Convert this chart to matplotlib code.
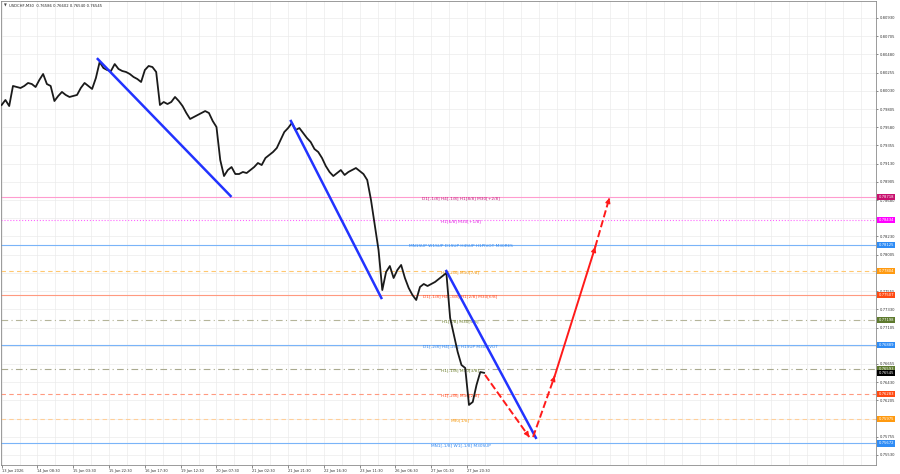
import matplotlib.pyplot as plt
from matplotlib.transforms import blended_transform_factory

# USDCHF M30 closes, one value every 4 bars (2 hours)
BAR_STEP = 4
closes = [
    0.79855, 0.79917, 0.79842, 0.80090, 0.80077, 0.80065, 0.80090, 0.80127,
    0.80114, 0.80077, 0.80164, 0.80238, 0.80114, 0.80090, 0.79904, 0.79966,
    0.80016, 0.79979, 0.79954, 0.79966, 0.79979, 0.80065, 0.80127, 0.80090,
    0.80053, 0.80188, 0.80386, 0.80312, 0.80287, 0.80275, 0.80361, 0.80300,
    0.80275, 0.80263, 0.80238, 0.80201, 0.80176, 0.80139, 0.80287, 0.80337,
    0.80324, 0.80263, 0.79855, 0.79892, 0.79867, 0.79892, 0.79954, 0.79904,
    0.79842, 0.79756, 0.79682, 0.79706, 0.79731, 0.79756, 0.79780, 0.79756,
    0.79657, 0.79583, 0.79175, 0.78977, 0.79051, 0.79088, 0.79002, 0.79002,
    0.79027, 0.79014, 0.79051, 0.79088, 0.79138, 0.79113, 0.79200, 0.79237,
    0.79274, 0.79323, 0.79422, 0.79521, 0.79570, 0.79632, 0.79546, 0.79570,
    0.79509, 0.79447, 0.79397, 0.79311, 0.79274, 0.79200, 0.79101, 0.79027,
    0.78977, 0.79014, 0.79051, 0.78990, 0.79027, 0.79051, 0.79076, 0.79039,
    0.79002, 0.78928, 0.78681, 0.78372, 0.78063, 0.77568, 0.77791, 0.77865,
    0.77717, 0.77816, 0.77878, 0.77717, 0.77594, 0.77507, 0.77445, 0.77606,
    0.77643, 0.77618, 0.77643, 0.77668, 0.77705, 0.77742, 0.77779, 0.77223,
    0.77013, 0.76803, 0.76642, 0.76605, 0.76148, 0.76185, 0.76395, 0.76555,
    0.76545,
]

# blue trend lines: (bar start, bar end), (price start, price end)
trend_bars = [(102, 243), (307, 403), (472, 567)]
trend_prices = [(0.80423, 0.78730), (0.79657, 0.77470), (0.77803, 0.75742)]

# red forecast path
forecast_bars = [(513, 560), (564, 587), (587, 630), (630, 645)]
forecast_prices = [(0.76520, 0.75752), (0.75752, 0.76506),
                   (0.76506, 0.78100), (0.78100, 0.78706)]
forecast_styles = ["--", "--", "-", "--"]

# Murrey math levels
level_prices = [0.78718, 0.78434, 0.78125, 0.77804, 0.77507, 0.77198,
                0.76889, 0.76593, 0.76283, 0.75975, 0.75672]
level_texts = [
    "D1[-1/8] H4[-1/8] H1[8/8] M30[+2/8]",
    "H1[6/8] M30[+1/8]",
    "MN1SUP W1SUP D1SUP H4SUP H1PIVOT M30RES",
    "H4[-2/8] M30[7/8]",
    "D1[-1/8] H4[-3/8] H1[2/8] M30[6/8]",
    "H1[1/8] M30[5/8]",
    "D1[-2/8] H4[-2/8] H1SUP M30PIVOT",
    "H1[-1/8] M30[3/8]",
    "H1[-2/8] M30[2/8]",
    "M30[1/8]",
    "MN1[-1/8] W1[-1/8] M30SUP",
]
level_line_colors = ["#ff9ccf", "#ff66ff", "#7ab4f8", "#ffc870", "#ff9a80",
                     "#b5b59a", "#7ab4f8", "#a9a98e", "#ff9a80", "#ffcf9a",
                     "#7ab4f8"]
level_styles = ["-", ":", "-", (0, (4, 3)), "-", (0, (6, 3, 1, 3)), "-",
                (0, (6, 3, 1, 3)), (0, (4, 3)), (0, (4, 3)), "-"]
level_text_colors = ["#c2187a", "#e020e0", "#2f86f0", "#f59a10", "#ff4a20",
                     "#6b7d2a", "#2f86f0", "#6b7d2a", "#ff4a20", "#f59a10",
                     "#2f86f0"]
level_tag_colors = ["#c8106e", "#ff00ff", "#2f8cf5", "#ff9a10", "#ff4a12",
                    "#5e7a2e", "#2f8cf5", "#5e7a2e", "#ff4a12", "#ff9a10",
                    "#2f8cf5"]

bid_price = 0.76545
title = "USDCHF,M30  0.76586 0.76602 0.76540 0.76545"

price_ticks = [round(0.80930 - k * 0.00225, 5) for k in range(25)]
time_labels = ["13 Jan 2026", "14 Jan 08:30", "15 Jan 03:30", "15 Jan 22:30",
               "16 Jan 17:30", "19 Jan 12:30", "20 Jan 07:30", "21 Jan 02:30",
               "21 Jan 21:30", "22 Jan 16:30", "23 Jan 11:30", "26 Jan 06:30",
               "27 Jan 01:30", "27 Jan 20:30"]
LABEL_EVERY = 38


fig = plt.figure(figsize=(9, 4.74), dpi=100)
ax = fig.add_axes([1 / 900, 9 / 474, 875 / 900, 464 / 474])
ax.set_xlim(-0.7, 928)
ax.set_ylim(0.75406, 0.81140)

# grid
for b in range(0, 930, LABEL_EVERY // 2):
    ax.axvline(b, color="#ebebeb", lw=0.5, zorder=0)
for p in price_ticks:
    ax.axhline(p, color="#ebebeb", lw=0.5, zorder=0)

# levels
for p, ls, lc in zip(level_prices, level_styles, level_line_colors):
    ax.axhline(p, color=lc, lw=0.8, ls=ls, zorder=1)
for p, txt, tc in zip(level_prices, level_texts, level_text_colors):
    ax.text(487, p - 0.00018, txt, color=tc, fontsize=3.1, ha="center",
            va="center", zorder=2)

# price
bars = [i * BAR_STEP for i in range(len(closes))]
ax.plot(bars, closes, color="#1a1a1a", lw=1.3, zorder=3)

# trend lines
for xs, ys in zip(trend_bars, trend_prices):
    ax.plot(xs, ys, color="#2233ff", lw=1.8, zorder=4)

# forecast arrows
for xs, ys, ls in zip(forecast_bars, forecast_prices, forecast_styles):
    ax.plot(xs, ys, color="#ff1a1a", lw=1.4, ls=ls, zorder=5)
    tail = (xs[1] - 0.02 * (xs[1] - xs[0]), ys[1] - 0.02 * (ys[1] - ys[0]))
    ax.annotate("", xy=(xs[1], ys[1]), xytext=tail,
                arrowprops=dict(arrowstyle="-|>", color="#ff1a1a", lw=1.0,
                                mutation_scale=7, shrinkA=0, shrinkB=0),
                zorder=5)

# axes styling
for s in ax.spines.values():
    s.set_color("#8a8a8a")
    s.set_linewidth(0.6)
ax.yaxis.tick_right()
ax.set_yticks(price_ticks)
ax.set_yticklabels([f"{p:.5f}" for p in price_ticks])
ax.tick_params(axis="y", labelsize=2.7, length=1.5, width=0.4, pad=1,
               colors="#333333")
ax.set_xticks([i * LABEL_EVERY for i in range(len(time_labels))])
ax.set_xticklabels(time_labels, ha="left")
ax.tick_params(axis="x", labelsize=2.6, length=2, width=0.4, pad=1,
               colors="#333333")

# price tags on the right axis
tr = blended_transform_factory(ax.transAxes, ax.transData)
for p, c in zip(level_prices, level_tag_colors):
    ax.text(1.003, p, f"{p:.5f}", transform=tr, fontsize=2.7, color="white",
            va="center", ha="left", clip_on=False,
            bbox=dict(boxstyle="square,pad=0.3", fc=c, ec="none"))
ax.text(1.003, bid_price - 0.00002, f"{bid_price:.5f}", transform=tr,
        fontsize=2.7, color="white", va="center", ha="left", clip_on=False,
        bbox=dict(boxstyle="square,pad=0.3", fc="black", ec="none"))

# symbol header
ax.text(0.003, 0.994, "\u25bc", transform=ax.transAxes, fontsize=2.6,
        color="#444444", va="top", ha="left")
ax.text(0.009, 0.994, title, transform=ax.transAxes, fontsize=2.7,
        color="#222222", va="top", ha="left")

fig.savefig("out.png", dpi=100)
